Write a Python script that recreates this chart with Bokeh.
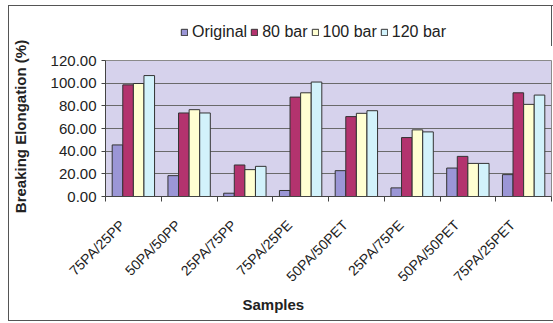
from math import pi
from bokeh.plotting import figure
from bokeh.layouts import column, row
from bokeh.models import (ColumnDataSource, FixedTicker, Legend, LegendItem, Range1d,
                          NumeralTickFormatter, Title)
from bokeh.embed import file_html
from bokeh.resources import INLINE

samples = ["75PA/25PP", "50PA/50PP", "25PA/75PP", "75PA/25PE",
           "50PA/50PET", "25PA/75PE", "50PA/50PET", "75PA/25PET"]
series = ["Original", "80 bar", "100 bar", "120 bar"]
original = [45.5, 18.4, 2.9, 5.3, 22.8, 7.6, 25.1, 19.3]
bar80 = [98.5, 73.7, 27.8, 87.7, 70.5, 52.0, 35.4, 91.5]
bar100 = [99.7, 76.6, 23.7, 91.5, 73.4, 58.8, 29.2, 81.3]
bar120 = [106.7, 73.7, 26.6, 101.0, 75.7, 57.0, 29.2, 89.5]
y_ticks = [0, 20, 40, 60, 80, 100, 120]

colors = ["#9B96D6", "#B3336E", "#FFFFD2", "#D2F2FB"]
values = [original, bar80, bar100, bar120]
offsets = [-0.285, -0.095, 0.095, 0.285]
bar_w = 0.19

FONT = "Liberation Sans"
centers = [i + 0.5 for i in range(len(samples))]
sources = [ColumnDataSource(dict(x=[c + off for c in centers], top=vals))
           for vals, off in zip(values, offsets)]

# ---- y-axis title strip ----
yf = figure(width=30, height=314, output_backend="svg", toolbar_location=None,
            x_axis_location=None, y_axis_location=None,
            x_range=Range1d(0, 1), y_range=Range1d(0, 1),
            min_border=0, min_border_left=14, min_border_bottom=74)
yf.grid.visible = False
yf.outline_line_color = None
yf.add_layout(Title(text="Breaking Elongation (%)", align="center",
                    standoff=0, text_font=FONT, text_font_size="15px",
                    text_font_style="bold", text_color="#222222"), "left")

# ---- legend strip (its bars lie outside its view; only the key shows) ----
lf = figure(width=514, height=40, output_backend="svg", toolbar_location=None,
            x_axis_location=None, y_axis_location=None,
            x_range=Range1d(-20, -19), y_range=Range1d(0, 1), min_border=0)
lf.grid.visible = False
lf.outline_line_color = None
leg_items = []
for name, col, src in zip(series, colors, sources):
    r = lf.vbar(x="x", top="top", width=bar_w, source=src,
                fill_color=col, line_color="#333333")
    leg_items.append(LegendItem(label=name, renderers=[r]))
legend = Legend(items=leg_items, orientation="horizontal", location=(75, 5),
                glyph_width=8, glyph_height=8, label_text_font=FONT,
                label_text_font_size="16px", label_text_color="#222222",
                label_standoff=4, spacing=3, padding=0, margin=0,
                border_line_color=None, background_fill_alpha=0, label_height=14)
lf.add_layout(legend, "center")

# ---- main chart ----
p = figure(width=514, height=274, output_backend="svg", toolbar_location=None,
           x_range=Range1d(0, len(samples)), y_range=Range1d(0, 120),
           min_border_left=66, min_border_right=2, min_border_top=14,
           min_border_bottom=124)

p.background_fill_color = "#D6D2EC"
p.border_fill_color = "white"
p.outline_line_color = "#8A8A8A"

for col, src in zip(colors, sources):
    p.vbar(x="x", top="top", width=bar_w, bottom=0, source=src,
           fill_color=col, line_color="#333333", line_width=1)

p.xgrid.visible = False
p.ygrid.ticker = FixedTicker(ticks=y_ticks)
p.ygrid.grid_line_color = "#6A6A6A"
p.ygrid.grid_line_width = 1

ya = p.yaxis[0]
ya.ticker = FixedTicker(ticks=y_ticks)
ya.formatter = NumeralTickFormatter(format="0.00")
ya.major_label_text_font = FONT
ya.major_label_text_font_size = "15px"
ya.major_label_text_color = "#222222"
ya.major_tick_out = 4
ya.major_tick_in = 0
ya.minor_tick_line_color = None
ya.axis_line_color = "#444444"
ya.major_tick_line_color = "#444444"
ya.major_label_standoff = 5

label_pos = [c - 0.2 for c in centers]
xa = p.xaxis[0]
xa.ticker = FixedTicker(ticks=label_pos, minor_ticks=list(range(len(samples) + 1)))
xa.major_label_overrides = {lp: s for lp, s in zip(label_pos, samples)}
xa.major_label_orientation = pi / 4
xa.major_label_text_font = FONT
xa.major_label_text_font_size = "14px"
xa.major_label_text_color = "#222222"
xa.major_label_standoff = 20
xa.major_tick_line_color = None
xa.minor_tick_line_color = "#444444"
xa.minor_tick_out = 5
xa.minor_tick_in = 0
xa.axis_line_color = "#444444"

p.add_layout(Title(text="Samples", align="left", offset=137, standoff=0,
                   text_font=FONT, text_font_size="15px", text_font_style="bold",
                   text_color="#222222"), "below")

layout = column(row(yf, column(lf, p, spacing=0), spacing=0),
                spacing=0, margin=(5, 0, 0, 8),
                styles={"border-left": "1px solid #555555",
                        "border-top": "1px solid #555555",
                        "border-bottom": "1px solid #555555"})

open("out.html", "w").write(file_html(layout, INLINE))
